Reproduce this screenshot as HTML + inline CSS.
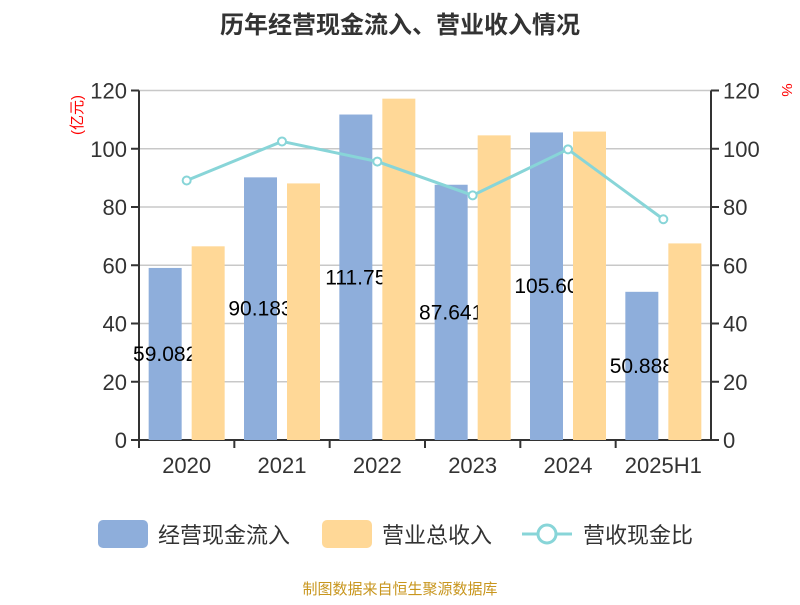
<!DOCTYPE html>
<html><head><meta charset="utf-8"><style>
body{margin:0;background:#fff;font-family:"Liberation Sans","Noto Sans CJK SC",sans-serif}
</style></head><body>
<svg id="c" width="800" height="600" xmlns="http://www.w3.org/2000/svg" font-family="Liberation Sans, Noto Sans CJK SC, sans-serif">
<text x="400" y="33" text-anchor="middle" font-size="24" font-weight="bold" fill="#333">历年经营现金流入、营业收入情况</text>
<text transform="translate(82,115) rotate(-90)" text-anchor="middle" font-size="15" fill="#f00">(亿元)</text>
<text transform="translate(782,90) rotate(90)" text-anchor="middle" font-size="15" fill="#f00">%</text>
<g id="grid"></g><g id="marks"></g>
<g>
<rect x="98" y="520" width="50" height="28" rx="5" fill="#8eaedb"/>
<text x="158" y="543" font-size="22" fill="#333">经营现金流入</text>
<rect x="322" y="520" width="50" height="28" rx="5" fill="#ffd897"/>
<text x="382" y="543" font-size="22" fill="#333">营业总收入</text>
<line x1="522" y1="534" x2="572" y2="534" stroke="#88d5d8" stroke-width="3"/>
<circle cx="547" cy="534" r="9" fill="#fff" stroke="#88d5d8" stroke-width="3"/>
<text x="583" y="543" font-size="22" fill="#333">营收现金比</text>
</g>
<text x="400" y="594" text-anchor="middle" font-size="15" fill="#c8961e">制图数据来自恒生聚源数据库</text>
</svg>
<script>
const categories=["2020","2021","2022","2023","2024","2025H1"];
const cashInflow=[59.08,90.18,111.75,87.64,105.60,50.88];
const cashLabels=["59.082","90.183","111.75","87.641","105.60","50.888"];
const revenue=[66.5,88.1,117.2,104.6,105.9,67.5];
const ratio=[89.1,102.5,95.6,84.0,99.8,75.8];
const ticks=[0,20,40,60,80,100,120];

const NS="http://www.w3.org/2000/svg";
const L=139,R=711,T=90.5,B=440;
const y=v=>B-(B-T)*v/120;
const band=(R-L)/categories.length;
const cx=i=>L+band*(i+0.5);
function mk(tag,a,parent){const e=document.createElementNS(NS,tag);for(const k in a)e.setAttribute(k,a[k]);parent.appendChild(e);return e;}
const g=document.getElementById('grid'),m=document.getElementById('marks');
ticks.forEach(t=>{
 const gl=mk('line',{x1:L,x2:R,y1:y(t),y2:y(t),stroke:'#c8c8c8','stroke-width':1.5},g);
 
 
 const a=mk('line',{x1:L-8,x2:L,y1:y(t),y2:y(t),stroke:'#333','stroke-width':2},g);
 
 
 const b=mk('line',{x1:R,x2:R+8,y1:y(t),y2:y(t),stroke:'#333','stroke-width':2},g);
 
 
 const lt=mk('text',{x:L-12,y:y(t)+8,'text-anchor':'end','font-size':22,fill:'#333'},g);lt.textContent=t;
 
 
 const rt=mk('text',{x:R+12,y:y(t)+8,'font-size':22,fill:'#333'},g);rt.textContent=t;
 
 
});
[L,R].forEach(x=>{const a=mk('line',{x1:x,x2:x,y1:T,y2:B,stroke:'#333','stroke-width':2},g);
 
 });
const xa=mk('line',{x1:L,x2:R,y1:B,y2:B,stroke:'#333','stroke-width':2},g);


categories.forEach((c,i)=>{
 const tk=mk('line',{x1:L+band*i,x2:L+band*i,y1:B,y2:B+8,stroke:'#333','stroke-width':2},g);
 
 
 const t=mk('text',{x:cx(i),y:B+33,'text-anchor':'middle','font-size':22,fill:'#333'},g);t.textContent=c;
 
 
});
const bw=33;
cashInflow.forEach((v,i)=>{
 const r=mk('rect',{x:cx(i)-5-bw,y:y(v),width:bw,height:B-y(v),fill:'#8eaedb'},m);
 
 
});
cashInflow.forEach((v,i)=>{
 const t=mk('text',{x:cx(i)-5-bw/2,y:(y(v)+B)/2+7,'text-anchor':'middle','font-size':21,fill:'#000'},m);t.textContent=cashLabels[i];
 
 
});
revenue.forEach((v,i)=>{
 const r=mk('rect',{x:cx(i)+5,y:y(v),width:bw,height:B-y(v),fill:'#ffd897'},m);
 
 
});
const pl=mk('polyline',{points:ratio.map((v,i)=>cx(i)+','+y(v)).join(' '),fill:'none',stroke:'#88d5d8','stroke-width':3},m);


ratio.forEach((v,i)=>{
 const p=mk('circle',{cx:cx(i),cy:y(v),r:4,fill:'#fff',stroke:'#88d5d8','stroke-width':2},m);
 
 
});
</script>
</body></html>
